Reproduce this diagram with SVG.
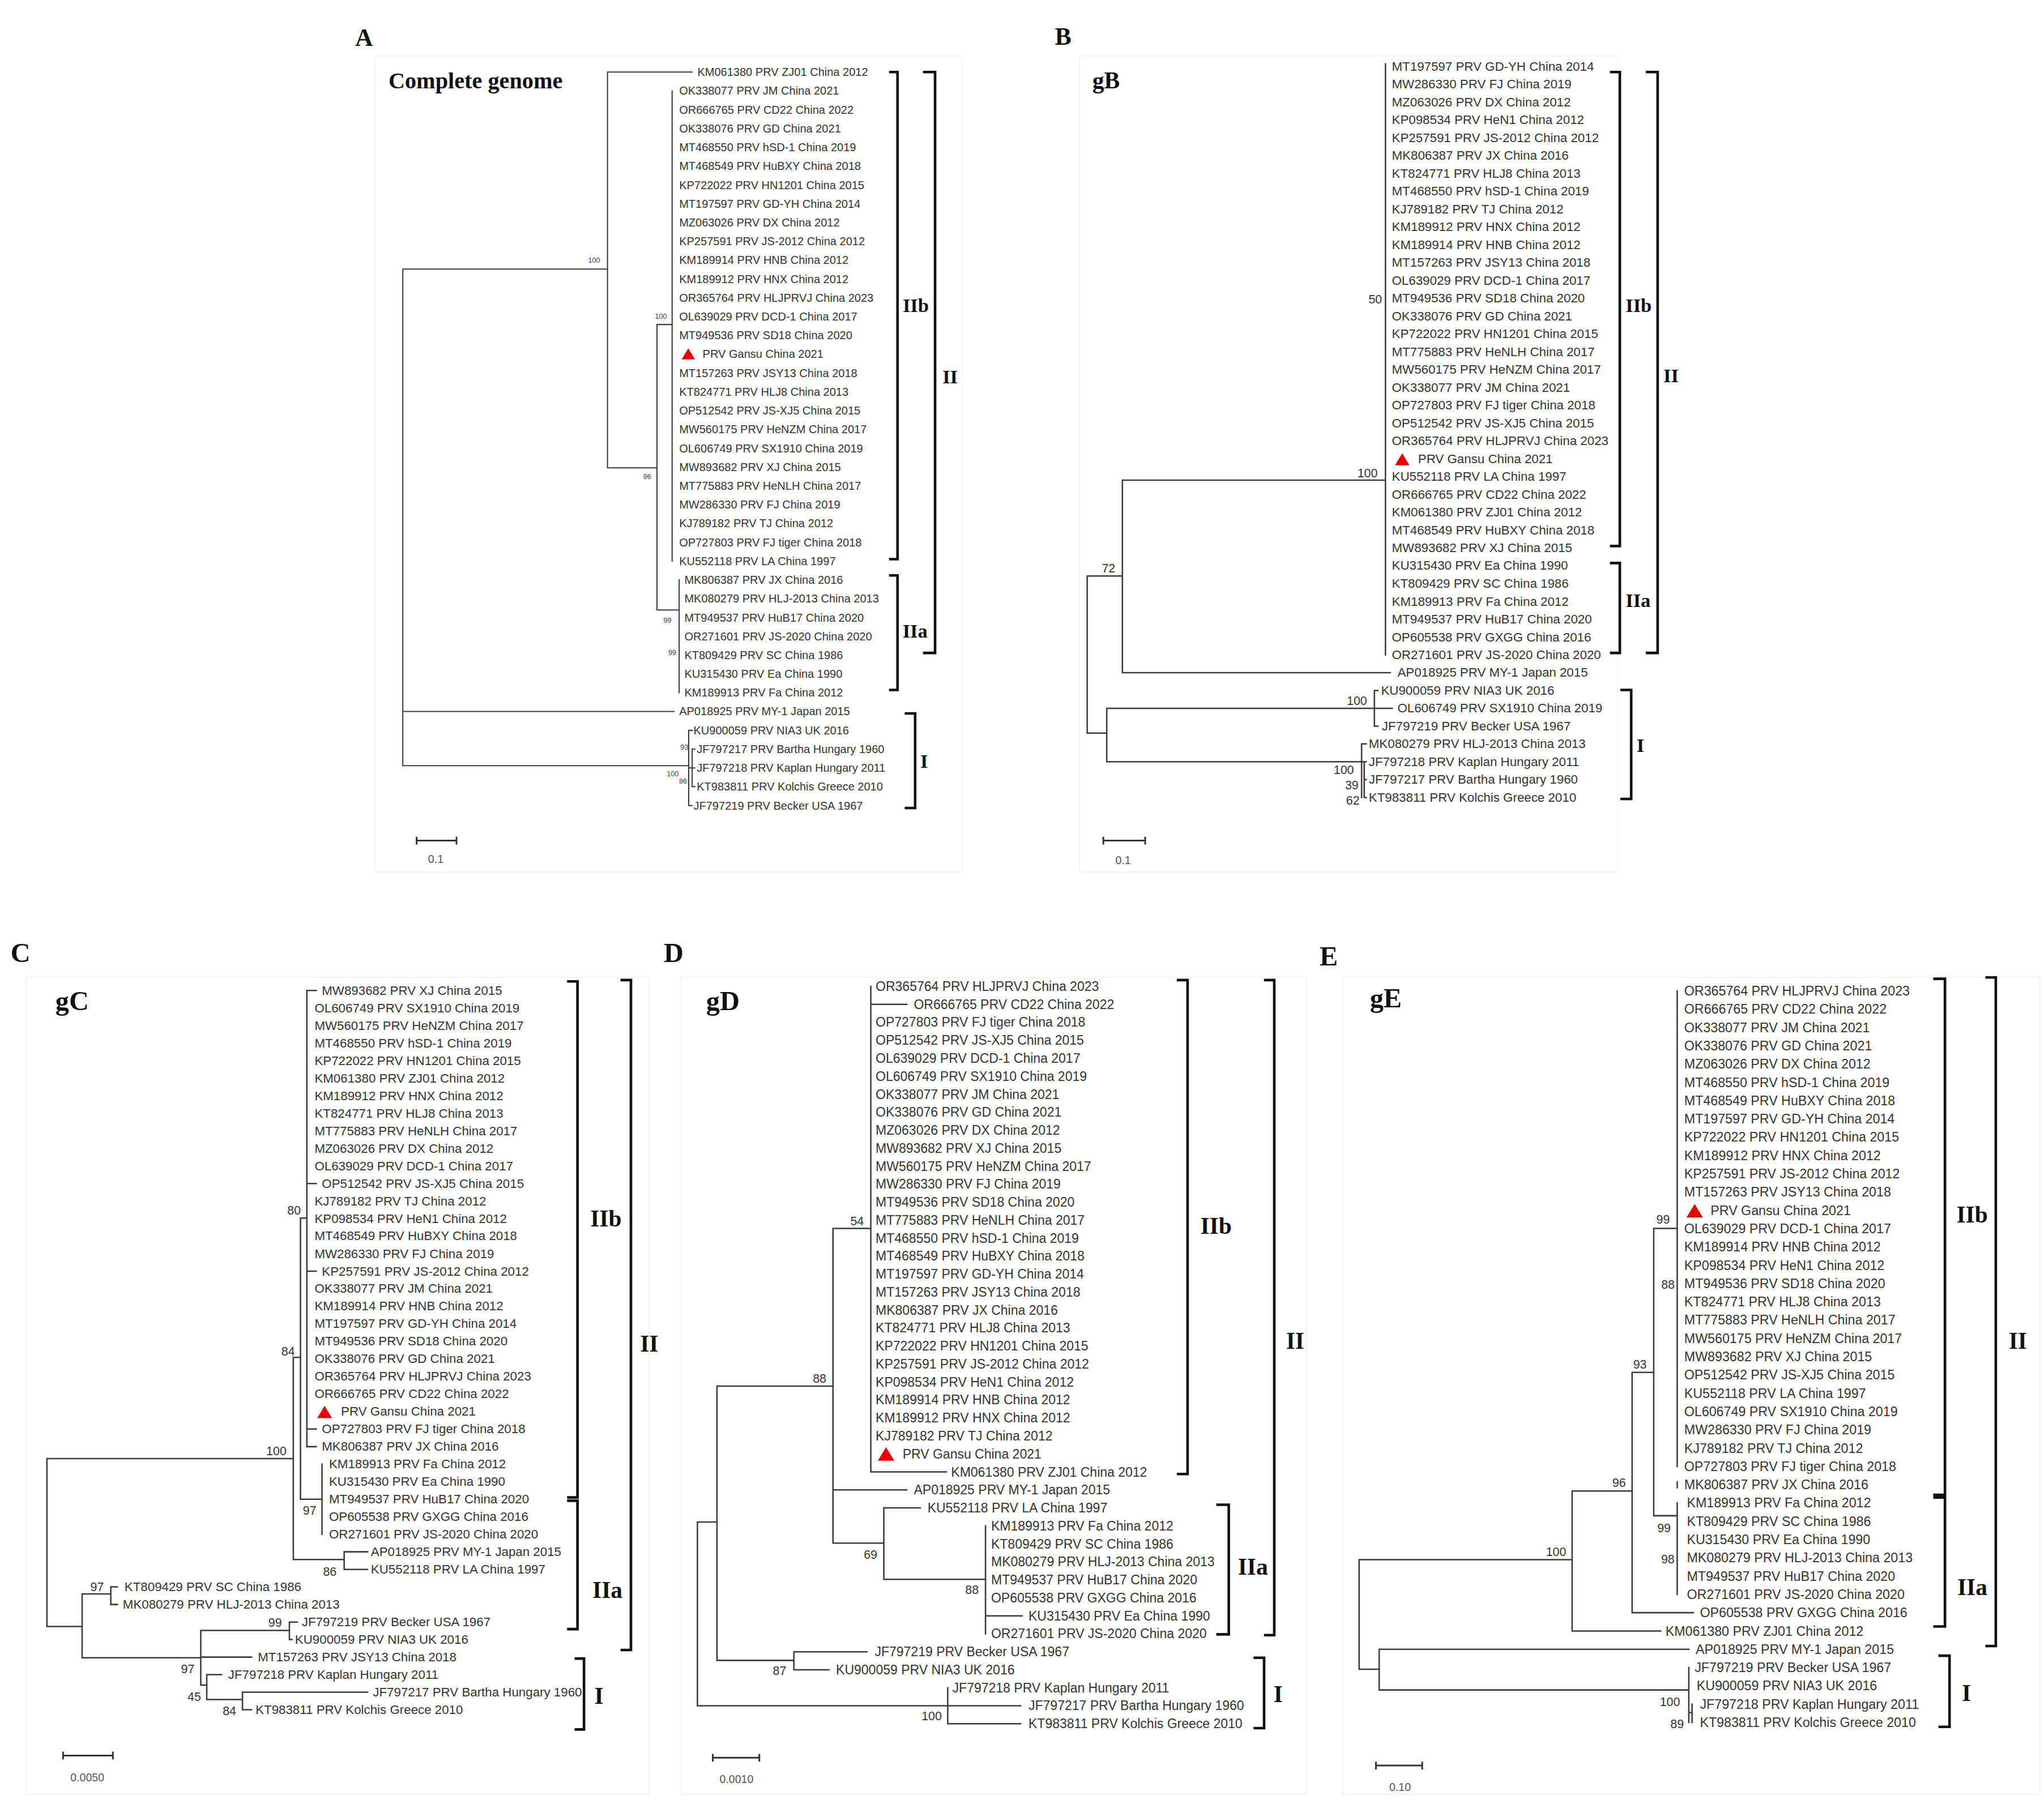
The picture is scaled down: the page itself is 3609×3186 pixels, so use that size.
<svg xmlns="http://www.w3.org/2000/svg" xmlns:xlink="http://www.w3.org/1999/xlink" width="3609" height="3186" viewBox="0 0 3609 3186">
<style>
.bg{fill:#ffffff}
.fr{fill:none;stroke:#f5f5f5;stroke-width:1}
.b{fill:none;stroke:#3a3a3a;stroke-width:1.1;stroke-linecap:square}
.ba{fill:none;stroke:#3a3a3a;stroke-width:0.9;stroke-linecap:square}
.k{fill:none;stroke:#111;stroke-width:2}
text{font-family:"Liberation Sans",Arial,sans-serif;fill:#333}
.lf{dominant-baseline:central}
.fa{font-size:8.7px}
.fb{font-size:9.7px}
.fc{font-size:9.7px}
.fd{font-size:10px}
.fe{font-size:10.1px}
.n{font-size:9.3px;text-anchor:middle;dominant-baseline:central;fill:#333}
.na{font-size:5.5px;text-anchor:middle;dominant-baseline:central;fill:#444}
.P{font-family:"Liberation Serif","Times New Roman",serif;font-weight:bold;fill:#111}
.cl{font-family:"Liberation Serif","Times New Roman",serif;font-weight:bold;fill:#111;dominant-baseline:central}
.s{font-size:8.5px;text-anchor:middle;fill:#555}
.sb{fill:none;stroke:#333;stroke-width:1.3}
</style>
<defs>
<path id="tri" d="M0,-5 L6,5 L-6,5 Z" fill="#e60000"/>
</defs>
<rect class="bg" x="0" y="0" width="3609" height="3186"/>
<g transform="scale(2.3017)">

<!-- ================= PANEL A ================= -->
<g id="panelA">
<rect class="fr" x="288" y="43" width="450" height="626"/>
<text class="P" x="272.4" y="35.3" font-size="19">A</text>
<text class="P" x="298" y="67.9" font-size="17.5">Complete genome</text>
<g id="A-connectors">
<path class="ba" d="M309,206.5 V587.5 M309,206.5 H466 M466,55.3 V359 M466,55.3 H531 M466,359 H504 M504,249 V468 M504,249 H515.6 M515.6,69.7 V430.5 M504,468 H521 M521,444.9 V531.5 M309,545.9 H517 M309,587.5 H528.3 M528.3,560.4 V618.1 M528.3,560.4 H531 M528.3,618.1 H531 M528.3,589.2 H531 M531,574.8 V603.6 M531,574.8 H533 M531,589.2 H533 M531,603.6 H533"/>
<path class="k" d="M682,55.3 H688.5 V429 H682 M682,441.5 H688.5 V529.4 H682 M708,55.3 H717.3 V501 H708 M694,547.4 H702 V620 H694"/>
<path class="sb" d="M319.6,645 H350.2 M319.6,642 V648 M350.2,642 V648"/>
</g>
<text class="s" x="334.3" y="662" font-size="6">0.1</text>
<text class="na" x="455.8" y="200">100</text>
<text class="na" x="507" y="242.7">100</text>
<text class="na" x="496.4" y="366">96</text>
<text class="na" x="512" y="476">99</text>
<text class="na" x="515.7" y="501">99</text>
<text class="na" x="525" y="573.5">93</text>
<text class="na" x="516" y="594">100</text>
<text class="na" x="524" y="599.5">86</text>
<text class="cl" x="692.5" y="234" font-size="15">IIb</text>
<text class="cl" x="692.4" y="484" font-size="15">IIa</text>
<text class="cl" x="723" y="289" font-size="15">II</text>
<text class="cl" x="706" y="584" font-size="15">I</text>
<g id="a1"><text class="lf fa" x="535" y="55.3">KM061380 PRV ZJ01 China 2012</text></g>
<g id="a2"><text class="lf fa" x="521" y="69.7">OK338077 PRV JM China 2021</text></g>
<g id="a3"><text class="lf fa" x="521" y="84.2">OR666765 PRV CD22 China 2022</text></g>
<g id="a4"><text class="lf fa" x="521" y="98.6">OK338076 PRV GD China 2021</text></g>
<g id="a5"><text class="lf fa" x="521" y="113">MT468550 PRV hSD-1 China 2019</text></g>
<g id="a6"><text class="lf fa" x="521" y="127.5">MT468549 PRV HuBXY China 2018</text></g>
<g id="a7"><text class="lf fa" x="521" y="141.9">KP722022 PRV HN1201 China 2015</text></g>
<g id="a8"><text class="lf fa" x="521" y="156.3">MT197597 PRV GD-YH China 2014</text></g>
<g id="a9"><text class="lf fa" x="521" y="170.7">MZ063026 PRV DX China 2012</text></g>
<g id="a10"><text class="lf fa" x="521" y="185.2">KP257591 PRV JS-2012 China 2012</text></g>
<g id="a11"><text class="lf fa" x="521" y="199.6">KM189914 PRV HNB China 2012</text></g>
<g id="a12"><text class="lf fa" x="521" y="214">KM189912 PRV HNX China 2012</text></g>
<g id="a13"><text class="lf fa" x="521" y="228.5">OR365764 PRV HLJPRVJ China 2023</text></g>
<g id="a14"><text class="lf fa" x="521" y="242.9">OL639029 PRV DCD-1 China 2017</text></g>
<g id="a15"><text class="lf fa" x="521" y="257.3">MT949536 PRV SD18 China 2020</text></g>
<g id="a16"><use xlink:href="#tri" href="#tri" transform="translate(528,271.5) scale(0.85)"/><text class="lf fa" x="539" y="271.7">PRV Gansu China 2021</text></g>
<g id="a17"><text class="lf fa" x="521" y="286.2">MT157263 PRV JSY13 China 2018</text></g>
<g id="a18"><text class="lf fa" x="521" y="300.6">KT824771 PRV HLJ8 China 2013</text></g>
<g id="a19"><text class="lf fa" x="521" y="315">OP512542 PRV JS-XJ5 China 2015</text></g>
<g id="a20"><text class="lf fa" x="521" y="329.5">MW560175 PRV HeNZM China 2017</text></g>
<g id="a21"><text class="lf fa" x="521" y="343.9">OL606749 PRV SX1910 China 2019</text></g>
<g id="a22"><text class="lf fa" x="521" y="358.3">MW893682 PRV XJ China 2015</text></g>
<g id="a23"><text class="lf fa" x="521" y="372.8">MT775883 PRV HeNLH China 2017</text></g>
<g id="a24"><text class="lf fa" x="521" y="387.2">MW286330 PRV FJ China 2019</text></g>
<g id="a25"><text class="lf fa" x="521" y="401.6">KJ789182 PRV TJ China 2012</text></g>
<g id="a26"><text class="lf fa" x="521" y="416.1">OP727803 PRV FJ tiger China 2018</text></g>
<g id="a27"><text class="lf fa" x="521" y="430.5">KU552118 PRV LA China 1997</text></g>
<g id="a28"><text class="lf fa" x="525" y="444.9">MK806387 PRV JX China 2016</text></g>
<g id="a29"><text class="lf fa" x="525" y="459.3">MK080279 PRV HLJ-2013 China 2013</text></g>
<g id="a30"><text class="lf fa" x="525" y="473.8">MT949537 PRV HuB17 China 2020</text></g>
<g id="a31"><text class="lf fa" x="525" y="488.2">OR271601 PRV JS-2020 China 2020</text></g>
<g id="a32"><text class="lf fa" x="525" y="502.6">KT809429 PRV SC China 1986</text></g>
<g id="a33"><text class="lf fa" x="525" y="517.1">KU315430 PRV Ea China 1990</text></g>
<g id="a34"><text class="lf fa" x="525" y="531.5">KM189913 PRV Fa China 2012</text></g>
<g id="a35"><text class="lf fa" x="521" y="545.9">AP018925 PRV MY-1 Japan 2015</text></g>
<g id="a36"><text class="lf fa" x="532" y="560.4">KU900059 PRV NIA3 UK 2016</text></g>
<g id="a37"><text class="lf fa" x="534.5" y="574.8">JF797217 PRV Bartha Hungary 1960</text></g>
<g id="a38"><text class="lf fa" x="534.5" y="589.2">JF797218 PRV Kaplan Hungary 2011</text></g>
<g id="a39"><text class="lf fa" x="534.5" y="603.6">KT983811 PRV Kolchis Greece 2010</text></g>
<g id="a40"><text class="lf fa" x="532" y="618.1">JF797219 PRV Becker USA 1967</text></g>
</g>

<!-- ================= PANEL B ================= -->
<g id="panelB">
<rect class="fr" x="828" y="43" width="413" height="626"/>
<text class="P" x="809.2" y="34.2" font-size="19">B</text>
<text class="P" x="838" y="67.9" font-size="18">gB</text>
<g id="B-connectors">
<path class="b" d="M834,442 V562.5 M834,442 H861 M861,368.4 V516.1 M861,368.4 H1062.8 M1062.8,49 V502.4 M861,516.1 H1066.5 M834,562.5 H849 M849,543.5 V584.5 M849,543.5 H1068 M1054.3,529.8 V557.2 M1054.3,529.8 H1057 M1054.3,557.2 H1057 M849,584.5 H1044.5 M1044.5,570.8 V611.9 M1044.5,570.8 H1048 M1044.5,584.5 H1048 M1046.5,584.5 V611.9 M1046.5,598.2 H1048 M1046.5,611.9 H1048"/>
<path class="k" d="M1235,55.3 H1242.6 V419 H1235 M1235,432 H1242.6 V501 H1235 M1262.5,55.3 H1271.6 V501 H1262.5 M1243,529.4 H1251.3 V613 H1243"/>
<path class="sb" d="M846.4,645 H878.5 M846.4,642 V648 M878.5,642 V648"/>
</g>
<text class="s" x="861.6" y="663">0.1</text>
<text class="n" x="1049" y="363">100</text>
<text class="n" x="1055" y="229.7">50</text>
<text class="n" x="850.4" y="436">72</text>
<text class="n" x="1040.9" y="538">100</text>
<text class="n" x="1030.8" y="591">100</text>
<text class="n" x="1037" y="602.5">39</text>
<text class="n" x="1037.8" y="614.4">62</text>
<text class="cl" x="1247" y="234" font-size="15">IIb</text>
<text class="cl" x="1247" y="460.5" font-size="15">IIa</text>
<text class="cl" x="1276" y="288" font-size="15">II</text>
<text class="cl" x="1255.5" y="571.6" font-size="15">I</text>
<g id="b1"><text class="lf fb" x="1067.7" y="51">MT197597 PRV GD-YH China 2014</text></g>
<g id="b2"><text class="lf fb" x="1067.7" y="64.7">MW286330 PRV FJ China 2019</text></g>
<g id="b3"><text class="lf fb" x="1067.7" y="78.4">MZ063026 PRV DX China 2012</text></g>
<g id="b4"><text class="lf fb" x="1067.7" y="92">KP098534 PRV HeN1 China 2012</text></g>
<g id="b5"><text class="lf fb" x="1067.7" y="105.7">KP257591 PRV JS-2012 China 2012</text></g>
<g id="b6"><text class="lf fb" x="1067.7" y="119.4">MK806387 PRV JX China 2016</text></g>
<g id="b7"><text class="lf fb" x="1067.7" y="133.1">KT824771 PRV HLJ8 China 2013</text></g>
<g id="b8"><text class="lf fb" x="1067.7" y="146.8">MT468550 PRV hSD-1 China 2019</text></g>
<g id="b9"><text class="lf fb" x="1067.7" y="160.4">KJ789182 PRV TJ China 2012</text></g>
<g id="b10"><text class="lf fb" x="1067.7" y="174.1">KM189912 PRV HNX China 2012</text></g>
<g id="b11"><text class="lf fb" x="1067.7" y="187.8">KM189914 PRV HNB China 2012</text></g>
<g id="b12"><text class="lf fb" x="1067.7" y="201.5">MT157263 PRV JSY13 China 2018</text></g>
<g id="b13"><text class="lf fb" x="1067.7" y="215.2">OL639029 PRV DCD-1 China 2017</text></g>
<g id="b14"><text class="lf fb" x="1067.7" y="228.8">MT949536 PRV SD18 China 2020</text></g>
<g id="b15"><text class="lf fb" x="1067.7" y="242.5">OK338076 PRV GD China 2021</text></g>
<g id="b16"><text class="lf fb" x="1067.7" y="256.2">KP722022 PRV HN1201 China 2015</text></g>
<g id="b17"><text class="lf fb" x="1067.7" y="269.9">MT775883 PRV HeNLH China 2017</text></g>
<g id="b18"><text class="lf fb" x="1067.7" y="283.6">MW560175 PRV HeNZM China 2017</text></g>
<g id="b19"><text class="lf fb" x="1067.7" y="297.2">OK338077 PRV JM China 2021</text></g>
<g id="b20"><text class="lf fb" x="1067.7" y="310.9">OP727803 PRV FJ tiger China 2018</text></g>
<g id="b21"><text class="lf fb" x="1067.7" y="324.6">OP512542 PRV JS-XJ5 China 2015</text></g>
<g id="b22"><text class="lf fb" x="1067.7" y="338.3">OR365764 PRV HLJPRVJ China 2023</text></g>
<g id="b23"><use xlink:href="#tri" href="#tri" transform="translate(1075.7,352.4) scale(0.92)"/><text class="lf fb" x="1087.8" y="352">PRV Gansu China 2021</text></g>
<g id="b24"><text class="lf fb" x="1067.7" y="365.6">KU552118 PRV LA China 1997</text></g>
<g id="b25"><text class="lf fb" x="1067.7" y="379.3">OR666765 PRV CD22 China 2022</text></g>
<g id="b26"><text class="lf fb" x="1067.7" y="393">KM061380 PRV ZJ01 China 2012</text></g>
<g id="b27"><text class="lf fb" x="1067.7" y="406.7">MT468549 PRV HuBXY China 2018</text></g>
<g id="b28"><text class="lf fb" x="1067.7" y="420.4">MW893682 PRV XJ China 2015</text></g>
<g id="b29"><text class="lf fb" x="1067.7" y="434">KU315430 PRV Ea China 1990</text></g>
<g id="b30"><text class="lf fb" x="1067.7" y="447.7">KT809429 PRV SC China 1986</text></g>
<g id="b31"><text class="lf fb" x="1067.7" y="461.4">KM189913 PRV Fa China 2012</text></g>
<g id="b32"><text class="lf fb" x="1067.7" y="475.1">MT949537 PRV HuB17 China 2020</text></g>
<g id="b33"><text class="lf fb" x="1067.7" y="488.8">OP605538 PRV GXGG China 2016</text></g>
<g id="b34"><text class="lf fb" x="1067.7" y="502.4">OR271601 PRV JS-2020 China 2020</text></g>
<g id="b35"><text class="lf fb" x="1072" y="516.1">AP018925 PRV MY-1 Japan 2015</text></g>
<g id="b36"><text class="lf fb" x="1059.4" y="529.8">KU900059 PRV NIA3 UK 2016</text></g>
<g id="b37"><text class="lf fb" x="1072" y="543.5">OL606749 PRV SX1910 China 2019</text></g>
<g id="b38"><text class="lf fb" x="1060" y="557.2">JF797219 PRV Becker USA 1967</text></g>
<g id="b39"><text class="lf fb" x="1050" y="570.8">MK080279 PRV HLJ-2013 China 2013</text></g>
<g id="b40"><text class="lf fb" x="1050" y="584.5">JF797218 PRV Kaplan Hungary 2011</text></g>
<g id="b41"><text class="lf fb" x="1050" y="598.2">JF797217 PRV Bartha Hungary 1960</text></g>
<g id="b42"><text class="lf fb" x="1050" y="611.9">KT983811 PRV Kolchis Greece 2010</text></g>
</g>

<!-- ================= PANEL C ================= -->
<g id="panelC">
<rect class="fr" x="20" y="750" width="478" height="627"/>
<text class="P" x="8.2" y="738.3" font-size="21">C</text>
<text class="P" x="42.5" y="775" font-size="21">gC</text>
<g id="C-connectors">
<path class="b" d="M36,1119.2 V1248 M36,1119.2 H225 M225,1041.5 V1196.6 M225,1041.5 H230.5 M230.5,934.6 V1150.3 M230.5,934.6 H235.4 M235.4,760 V1110 M235.4,760 H242.6 M235.4,908.1 H242.6 M235.4,975.4 H242.6 M235.4,1096.5 H242.6 M235.4,1110 H242.6 M230.5,1150.3 H247 M247,1123.4 V1177.3 M225,1196.6 H264 M264,1190.7 V1204.2 M264,1190.7 H282 M264,1204.2 H282 M36,1248 H63 M63,1223 V1272 M63,1223 H85 M85,1217.6 V1231.1 M85,1217.6 H90 M85,1231.1 H90 M63,1272 H154 M154,1251 V1293 M154,1251 H222 M222,1244.6 V1258 M222,1244.6 H228 M222,1258 H224 M154,1271.5 H193 M154,1293 H158.6 M158.6,1284.9 V1304 M158.6,1284.9 H170 M158.6,1304 H186 M186,1298.4 V1311.9 M186,1298.4 H282 M186,1311.9 H193"/>
<path class="k" d="M435,753 H443 V1149 H435 M435,1151.5 H443 V1250 H435 M476,752 H484 V1266 H476 M440.8,1272.6 H448 V1327 H440.8"/>
<path class="sb" d="M48.4,1347 H86.6 M48.4,1344 V1350 M86.6,1344 V1350"/>
</g>
<text class="s" x="67" y="1367">0.0050</text>
<text class="n" x="225.6" y="929">80</text>
<text class="n" x="221" y="1037">84</text>
<text class="n" x="212" y="1113.5">100</text>
<text class="n" x="237.5" y="1159">97</text>
<text class="n" x="253" y="1206">86</text>
<text class="n" x="74.5" y="1218">97</text>
<text class="n" x="211" y="1245">99</text>
<text class="n" x="144" y="1281">97</text>
<text class="n" x="149" y="1302">45</text>
<text class="n" x="176" y="1313">84</text>
<text class="cl" x="452.8" y="935" font-size="18">IIb</text>
<text class="cl" x="454.5" y="1220" font-size="18">IIa</text>
<text class="cl" x="491" y="1031" font-size="18">II</text>
<text class="cl" x="456" y="1301" font-size="18">I</text>
<g id="c1"><text class="lf fc" x="246.9" y="760">MW893682 PRV XJ China 2015</text></g>
<g id="c2"><text class="lf fc" x="241.3" y="773.5">OL606749 PRV SX1910 China 2019</text></g>
<g id="c3"><text class="lf fc" x="241.3" y="786.9">MW560175 PRV HeNZM China 2017</text></g>
<g id="c4"><text class="lf fc" x="241.3" y="800.4">MT468550 PRV hSD-1 China 2019</text></g>
<g id="c5"><text class="lf fc" x="241.3" y="813.8">KP722022 PRV HN1201 China 2015</text></g>
<g id="c6"><text class="lf fc" x="241.3" y="827.3">KM061380 PRV ZJ01 China 2012</text></g>
<g id="c7"><text class="lf fc" x="241.3" y="840.8">KM189912 PRV HNX China 2012</text></g>
<g id="c8"><text class="lf fc" x="241.3" y="854.2">KT824771 PRV HLJ8 China 2013</text></g>
<g id="c9"><text class="lf fc" x="241.3" y="867.7">MT775883 PRV HeNLH China 2017</text></g>
<g id="c10"><text class="lf fc" x="241.3" y="881.1">MZ063026 PRV DX China 2012</text></g>
<g id="c11"><text class="lf fc" x="241.3" y="894.6">OL639029 PRV DCD-1 China 2017</text></g>
<g id="c12"><text class="lf fc" x="246.9" y="908.1">OP512542 PRV JS-XJ5 China 2015</text></g>
<g id="c13"><text class="lf fc" x="241.3" y="921.5">KJ789182 PRV TJ China 2012</text></g>
<g id="c14"><text class="lf fc" x="241.3" y="935">KP098534 PRV HeN1 China 2012</text></g>
<g id="c15"><text class="lf fc" x="241.3" y="948.4">MT468549 PRV HuBXY China 2018</text></g>
<g id="c16"><text class="lf fc" x="241.3" y="961.9">MW286330 PRV FJ China 2019</text></g>
<g id="c17"><text class="lf fc" x="246.9" y="975.4">KP257591 PRV JS-2012 China 2012</text></g>
<g id="c18"><text class="lf fc" x="241.3" y="988.8">OK338077 PRV JM China 2021</text></g>
<g id="c19"><text class="lf fc" x="241.3" y="1002.3">KM189914 PRV HNB China 2012</text></g>
<g id="c20"><text class="lf fc" x="241.3" y="1015.7">MT197597 PRV GD-YH China 2014</text></g>
<g id="c21"><text class="lf fc" x="241.3" y="1029.2">MT949536 PRV SD18 China 2020</text></g>
<g id="c22"><text class="lf fc" x="241.3" y="1042.7">OK338076 PRV GD China 2021</text></g>
<g id="c23"><text class="lf fc" x="241.3" y="1056.1">OR365764 PRV HLJPRVJ China 2023</text></g>
<g id="c24"><text class="lf fc" x="241.3" y="1069.6">OR666765 PRV CD22 China 2022</text></g>
<g id="c25"><use xlink:href="#tri" href="#tri" transform="translate(249,1083.4) scale(0.95)"/><text class="lf fc" x="261.6" y="1083">PRV Gansu China 2021</text></g>
<g id="c26"><text class="lf fc" x="246.9" y="1096.5">OP727803 PRV FJ tiger China 2018</text></g>
<g id="c27"><text class="lf fc" x="246.9" y="1110">MK806387 PRV JX China 2016</text></g>
<g id="c28"><text class="lf fc" x="252.4" y="1123.4">KM189913 PRV Fa China 2012</text></g>
<g id="c29"><text class="lf fc" x="252.4" y="1136.9">KU315430 PRV Ea China 1990</text></g>
<g id="c30"><text class="lf fc" x="252.4" y="1150.3">MT949537 PRV HuB17 China 2020</text></g>
<g id="c31"><text class="lf fc" x="252.4" y="1163.8">OP605538 PRV GXGG China 2016</text></g>
<g id="c32"><text class="lf fc" x="252.4" y="1177.3">OR271601 PRV JS-2020 China 2020</text></g>
<g id="c33"><text class="lf fc" x="284.5" y="1190.7">AP018925 PRV MY-1 Japan 2015</text></g>
<g id="c34"><text class="lf fc" x="284.5" y="1204.2">KU552118 PRV LA China 1997</text></g>
<g id="c35"><text class="lf fc" x="95.5" y="1217.6">KT809429 PRV SC China 1986</text></g>
<g id="c36"><text class="lf fc" x="94.2" y="1231.1">MK080279 PRV HLJ-2013 China 2013</text></g>
<g id="c37"><text class="lf fc" x="231.5" y="1244.6">JF797219 PRV Becker USA 1967</text></g>
<g id="c38"><text class="lf fc" x="226.3" y="1258">KU900059 PRV NIA3 UK 2016</text></g>
<g id="c39"><text class="lf fc" x="197.8" y="1271.5">MT157263 PRV JSY13 China 2018</text></g>
<g id="c40"><text class="lf fc" x="175" y="1284.9">JF797218 PRV Kaplan Hungary 2011</text></g>
<g id="c41"><text class="lf fc" x="286" y="1298.4">JF797217 PRV Bartha Hungary 1960</text></g>
<g id="c42"><text class="lf fc" x="196" y="1311.9">KT983811 PRV Kolchis Greece 2010</text></g>
</g>

<!-- ================= PANEL D ================= -->
<g id="panelD">
<rect class="fr" x="522" y="750" width="480" height="627"/>
<text class="P" x="509.2" y="738.3" font-size="21">D</text>
<text class="P" x="541.7" y="775" font-size="21">gD</text>
<g id="D-connectors">
<path class="b" d="M535,1167.8 V1308.8 M535,1167.8 H550 M550,1063.6 V1274 M550,1063.6 H639 M639,942.6 V1184 M639,942.6 H668 M668,756.8 V1129.4 M668,770.6 H695.6 M668,1129.4 H726 M639,1143.2 H695.6 M639,1184 H678 M678,1157 V1211.8 M678,1157 H706 M678,1211.8 H756 M756,1170.8 V1253.6 M756,1239.8 H784 M550,1274 H609 M609,1267.4 V1281.2 M609,1267.4 H665 M609,1281.2 H636 M535,1308.8 H783 M727,1295 V1322.6 M727,1322.6 H783"/>
<path class="k" d="M902.7,752 H911 V1131 H902.7 M933,1154.6 H942.6 V1254 H933 M969.6,752 H977.5 V1254.6 H969.6 M961.6,1272 H969.7 V1326 H961.6"/>
<path class="sb" d="M546.8,1348.7 H582.5 M546.8,1345.7 V1351.7 M582.5,1345.7 V1351.7"/>
</g>
<text class="s" x="565" y="1368">0.0010</text>
<text class="n" x="657.5" y="937">54</text>
<text class="n" x="628.7" y="1057.7">88</text>
<text class="n" x="667.8" y="1193">69</text>
<text class="n" x="745.6" y="1220">88</text>
<text class="n" x="598" y="1282">87</text>
<text class="n" x="714.7" y="1316.7">100</text>
<text class="cl" x="920.8" y="940.5" font-size="18">IIb</text>
<text class="cl" x="949.6" y="1202" font-size="18">IIa</text>
<text class="cl" x="986.5" y="1029" font-size="18">II</text>
<text class="cl" x="977" y="1300" font-size="18">I</text>
<g id="d1"><text class="lf fd" x="671.7" y="756.8">OR365764 PRV HLJPRVJ China 2023</text></g>
<g id="d2"><text class="lf fd" x="701" y="770.6">OR666765 PRV CD22 China 2022</text></g>
<g id="d3"><text class="lf fd" x="671.7" y="784.4">OP727803 PRV FJ tiger China 2018</text></g>
<g id="d4"><text class="lf fd" x="671.7" y="798.2">OP512542 PRV JS-XJ5 China 2015</text></g>
<g id="d5"><text class="lf fd" x="671.7" y="812">OL639029 PRV DCD-1 China 2017</text></g>
<g id="d6"><text class="lf fd" x="671.7" y="825.8">OL606749 PRV SX1910 China 2019</text></g>
<g id="d7"><text class="lf fd" x="671.7" y="839.6">OK338077 PRV JM China 2021</text></g>
<g id="d8"><text class="lf fd" x="671.7" y="853.4">OK338076 PRV GD China 2021</text></g>
<g id="d9"><text class="lf fd" x="671.7" y="867.2">MZ063026 PRV DX China 2012</text></g>
<g id="d10"><text class="lf fd" x="671.7" y="881">MW893682 PRV XJ China 2015</text></g>
<g id="d11"><text class="lf fd" x="671.7" y="894.8">MW560175 PRV HeNZM China 2017</text></g>
<g id="d12"><text class="lf fd" x="671.7" y="908.6">MW286330 PRV FJ China 2019</text></g>
<g id="d13"><text class="lf fd" x="671.7" y="922.4">MT949536 PRV SD18 China 2020</text></g>
<g id="d14"><text class="lf fd" x="671.7" y="936.2">MT775883 PRV HeNLH China 2017</text></g>
<g id="d15"><text class="lf fd" x="671.7" y="950">MT468550 PRV hSD-1 China 2019</text></g>
<g id="d16"><text class="lf fd" x="671.7" y="963.8">MT468549 PRV HuBXY China 2018</text></g>
<g id="d17"><text class="lf fd" x="671.7" y="977.6">MT197597 PRV GD-YH China 2014</text></g>
<g id="d18"><text class="lf fd" x="671.7" y="991.4">MT157263 PRV JSY13 China 2018</text></g>
<g id="d19"><text class="lf fd" x="671.7" y="1005.2">MK806387 PRV JX China 2016</text></g>
<g id="d20"><text class="lf fd" x="671.7" y="1019">KT824771 PRV HLJ8 China 2013</text></g>
<g id="d21"><text class="lf fd" x="671.7" y="1032.8">KP722022 PRV HN1201 China 2015</text></g>
<g id="d22"><text class="lf fd" x="671.7" y="1046.6">KP257591 PRV JS-2012 China 2012</text></g>
<g id="d23"><text class="lf fd" x="671.7" y="1060.4">KP098534 PRV HeN1 China 2012</text></g>
<g id="d24"><text class="lf fd" x="671.7" y="1074.2">KM189914 PRV HNB China 2012</text></g>
<g id="d25"><text class="lf fd" x="671.7" y="1088">KM189912 PRV HNX China 2012</text></g>
<g id="d26"><text class="lf fd" x="671.7" y="1101.8">KJ789182 PRV TJ China 2012</text></g>
<g id="d27"><use xlink:href="#tri" href="#tri" transform="translate(679.7,1115.6) scale(1.05)"/><text class="lf fd" x="692.4" y="1115.6">PRV Gansu China 2021</text></g>
<g id="d28"><text class="lf fd" x="729.6" y="1129.4">KM061380 PRV ZJ01 China 2012</text></g>
<g id="d29"><text class="lf fd" x="701" y="1143.2">AP018925 PRV MY-1 Japan 2015</text></g>
<g id="d30"><text class="lf fd" x="711.5" y="1157">KU552118 PRV LA China 1997</text></g>
<g id="d31"><text class="lf fd" x="760.3" y="1170.8">KM189913 PRV Fa China 2012</text></g>
<g id="d32"><text class="lf fd" x="760.3" y="1184.6">KT809429 PRV SC China 1986</text></g>
<g id="d33"><text class="lf fd" x="760.3" y="1198.4">MK080279 PRV HLJ-2013 China 2013</text></g>
<g id="d34"><text class="lf fd" x="760.3" y="1212.2">MT949537 PRV HuB17 China 2020</text></g>
<g id="d35"><text class="lf fd" x="760.3" y="1226">OP605538 PRV GXGG China 2016</text></g>
<g id="d36"><text class="lf fd" x="789" y="1239.8">KU315430 PRV Ea China 1990</text></g>
<g id="d37"><text class="lf fd" x="760.3" y="1253.6">OR271601 PRV JS-2020 China 2020</text></g>
<g id="d38"><text class="lf fd" x="671" y="1267.4">JF797219 PRV Becker USA 1967</text></g>
<g id="d39"><text class="lf fd" x="641.3" y="1281.2">KU900059 PRV NIA3 UK 2016</text></g>
<g id="d40"><text class="lf fd" x="730.6" y="1295">JF797218 PRV Kaplan Hungary 2011</text></g>
<g id="d41"><text class="lf fd" x="789" y="1308.8">JF797217 PRV Bartha Hungary 1960</text></g>
<g id="d42"><text class="lf fd" x="789" y="1322.6">KT983811 PRV Kolchis Greece 2010</text></g>
</g>

<!-- ================= PANEL E ================= -->
<g id="panelE">
<rect class="fr" x="1030" y="750" width="535" height="627"/>
<text class="P" x="1012.3" y="740.8" font-size="21">E</text>
<text class="P" x="1050.8" y="773" font-size="21">gE</text>
<g id="E-connectors">
<path class="b" d="M1042.6,1196.7 V1280.8 M1042.6,1196.7 H1206 M1206,1144 V1251.5 M1206,1144 H1252 M1206,1251.5 H1274 M1252,1053 V1237.4 M1252,1053 H1268.6 M1252,1237.4 H1299 M1268.6,942.6 V1163 M1268.6,942.6 H1286.6 M1286.6,760.4 V1125.2 M1286.6,1137 V1141.5 M1268.6,1163 H1286.6 M1286.6,1153.2 V1223.4 M1042.6,1280.8 H1058 M1058,1265.5 V1296.7 M1058,1265.5 H1295.5 M1058,1296.7 H1295.5 M1295.5,1279.5 V1321.6 M1295.5,1314 H1298 M1298,1307.6 V1321.6"/>
<path class="k" d="M1483,751 H1492 V1147 H1483 M1483,1149 H1492 V1248 H1483 M1523,750 H1531 V1263 H1523 M1487,1270.4 H1495.5 V1325 H1487"/>
<path class="sb" d="M1055.5,1354.7 H1091 M1055.5,1351.7 V1357.7 M1091,1351.7 V1357.7"/>
</g>
<text class="s" x="1074" y="1374">0.10</text>
<text class="n" x="1275.8" y="936">99</text>
<text class="n" x="1279.5" y="986">88</text>
<text class="n" x="1258" y="1047">93</text>
<text class="n" x="1242" y="1137.7">96</text>
<text class="n" x="1276.5" y="1172.5">99</text>
<text class="n" x="1279.4" y="1196.7">98</text>
<text class="n" x="1193.7" y="1191">100</text>
<text class="n" x="1281" y="1306">100</text>
<text class="n" x="1286.5" y="1323">89</text>
<text class="cl" x="1500.8" y="932" font-size="18">IIb</text>
<text class="cl" x="1501.5" y="1218" font-size="18">IIa</text>
<text class="cl" x="1540.9" y="1029" font-size="18">II</text>
<text class="cl" x="1505" y="1299" font-size="18">I</text>
<g id="e1"><text class="lf fe" x="1292" y="760.4">OR365764 PRV HLJPRVJ China 2023</text></g>
<g id="e2"><text class="lf fe" x="1292" y="774.4">OR666765 PRV CD22 China 2022</text></g>
<g id="e3"><text class="lf fe" x="1292" y="788.5">OK338077 PRV JM China 2021</text></g>
<g id="e4"><text class="lf fe" x="1292" y="802.5">OK338076 PRV GD China 2021</text></g>
<g id="e5"><text class="lf fe" x="1292" y="816.5">MZ063026 PRV DX China 2012</text></g>
<g id="e6"><text class="lf fe" x="1292" y="830.6">MT468550 PRV hSD-1 China 2019</text></g>
<g id="e7"><text class="lf fe" x="1292" y="844.6">MT468549 PRV HuBXY China 2018</text></g>
<g id="e8"><text class="lf fe" x="1292" y="858.6">MT197597 PRV GD-YH China 2014</text></g>
<g id="e9"><text class="lf fe" x="1292" y="872.6">KP722022 PRV HN1201 China 2015</text></g>
<g id="e10"><text class="lf fe" x="1292" y="886.7">KM189912 PRV HNX China 2012</text></g>
<g id="e11"><text class="lf fe" x="1292" y="900.7">KP257591 PRV JS-2012 China 2012</text></g>
<g id="e12"><text class="lf fe" x="1292" y="914.7">MT157263 PRV JSY13 China 2018</text></g>
<g id="e13"><use xlink:href="#tri" href="#tri" transform="translate(1300,929) scale(1.05)"/><text class="lf fe" x="1312.2" y="928.8">PRV Gansu China 2021</text></g>
<g id="e14"><text class="lf fe" x="1292" y="942.8">OL639029 PRV DCD-1 China 2017</text></g>
<g id="e15"><text class="lf fe" x="1292" y="956.8">KM189914 PRV HNB China 2012</text></g>
<g id="e16"><text class="lf fe" x="1292" y="970.9">KP098534 PRV HeN1 China 2012</text></g>
<g id="e17"><text class="lf fe" x="1292" y="984.9">MT949536 PRV SD18 China 2020</text></g>
<g id="e18"><text class="lf fe" x="1292" y="998.9">KT824771 PRV HLJ8 China 2013</text></g>
<g id="e19"><text class="lf fe" x="1292" y="1012.9">MT775883 PRV HeNLH China 2017</text></g>
<g id="e20"><text class="lf fe" x="1292" y="1027">MW560175 PRV HeNZM China 2017</text></g>
<g id="e21"><text class="lf fe" x="1292" y="1041">MW893682 PRV XJ China 2015</text></g>
<g id="e22"><text class="lf fe" x="1292" y="1055">OP512542 PRV JS-XJ5 China 2015</text></g>
<g id="e23"><text class="lf fe" x="1292" y="1069.1">KU552118 PRV LA China 1997</text></g>
<g id="e24"><text class="lf fe" x="1292" y="1083.1">OL606749 PRV SX1910 China 2019</text></g>
<g id="e25"><text class="lf fe" x="1292" y="1097.1">MW286330 PRV FJ China 2019</text></g>
<g id="e26"><text class="lf fe" x="1292" y="1111.2">KJ789182 PRV TJ China 2012</text></g>
<g id="e27"><text class="lf fe" x="1292" y="1125.2">OP727803 PRV FJ tiger China 2018</text></g>
<g id="e28"><text class="lf fe" x="1292" y="1139.2">MK806387 PRV JX China 2016</text></g>
<g id="e29"><text class="lf fe" x="1294" y="1153.2">KM189913 PRV Fa China 2012</text></g>
<g id="e30"><text class="lf fe" x="1294" y="1167.3">KT809429 PRV SC China 1986</text></g>
<g id="e31"><text class="lf fe" x="1294" y="1181.3">KU315430 PRV Ea China 1990</text></g>
<g id="e32"><text class="lf fe" x="1294" y="1195.3">MK080279 PRV HLJ-2013 China 2013</text></g>
<g id="e33"><text class="lf fe" x="1294" y="1209.4">MT949537 PRV HuB17 China 2020</text></g>
<g id="e34"><text class="lf fe" x="1294" y="1223.4">OR271601 PRV JS-2020 China 2020</text></g>
<g id="e35"><text class="lf fe" x="1304" y="1237.4">OP605538 PRV GXGG China 2016</text></g>
<g id="e36"><text class="lf fe" x="1277.6" y="1251.5">KM061380 PRV ZJ01 China 2012</text></g>
<g id="e37"><text class="lf fe" x="1300.8" y="1265.5">AP018925 PRV MY-1 Japan 2015</text></g>
<g id="e38"><text class="lf fe" x="1300" y="1279.5">JF797219 PRV Becker USA 1967</text></g>
<g id="e39"><text class="lf fe" x="1301.5" y="1293.5">KU900059 PRV NIA3 UK 2016</text></g>
<g id="e40"><text class="lf fe" x="1304" y="1307.6">JF797218 PRV Kaplan Hungary 2011</text></g>
<g id="e41"><text class="lf fe" x="1304" y="1321.6">KT983811 PRV Kolchis Greece 2010</text></g>
</g>

</g>
</svg>
